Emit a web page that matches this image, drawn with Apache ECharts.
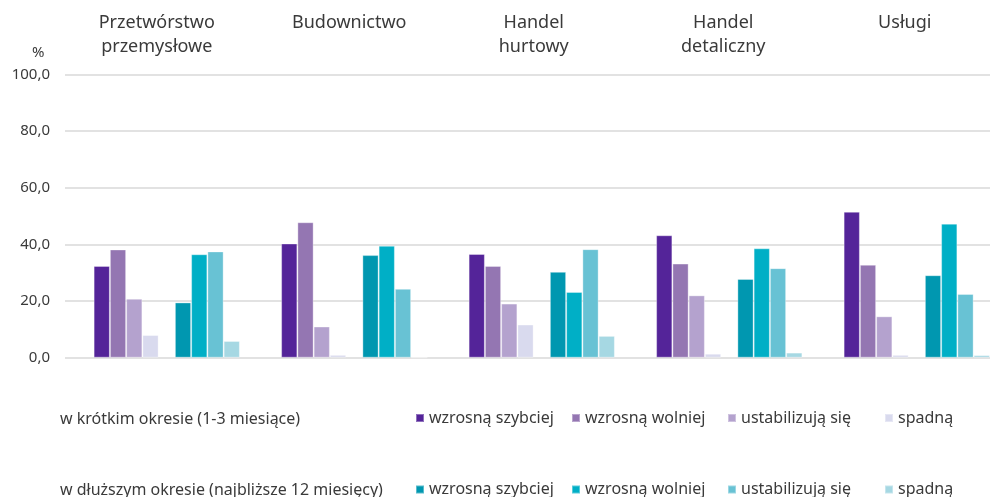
<!DOCTYPE html>
<html>
<head>
<meta charset="utf-8">
<script src="https://cdn.jsdelivr.net/npm/echarts@6/dist/echarts.min.js"></script>
<style>
html,body{margin:0;padding:0;background:#fff;}
#chart{width:990px;height:497px;}
</style>
</head>
<body>
<div id="chart"></div>
<script>
// ---- data ----
const sectors = ['Przetwórstwo\nprzemysłowe', 'Budownictwo', 'Handel\nhurtowy', 'Handel\ndetaliczny', 'Usługi'];
const seriesNames = ['wzrosną szybciej', 'wzrosną wolniej', 'ustabilizują się', 'spadną'];
const rowLabels = ['w krótkim okresie (1-3 miesiące)', 'w dłuższym okresie (najbliższe 12 miesięcy)'];
const yTicks = [0, 20, 40, 60, 80, 100];

const shortFaster = [32.4, 40.3, 36.6, 43.2, 51.5];
const shortSlower = [38.2, 47.8, 32.4, 33.2, 32.8];
const shortStable = [20.8, 11.0, 19.1, 22.0, 14.6];
const shortFall   = [8.0, 1.0, 11.7, 1.4, 1.0];

const longFaster = [19.5, 36.2, 30.3, 27.8, 29.1];
const longSlower = [36.5, 39.5, 23.2, 38.6, 47.3];
const longStable = [37.5, 24.3, 38.3, 31.6, 22.5];
const longFall   = [5.9, 0, 7.7, 1.8, 0.9];

// ---- styles ----
const shortColors = ['#542499', '#9476B2', '#B4A2CE', '#D9DAEE'];
const longColors  = ['#0097B0', '#00AFC6', '#68C2D4', '#A6D8E3'];
const titleShift = [20, 10, 16, 12, 24];
const FONT = '"Noto Sans", "Open Sans", sans-serif';
const TXT = '#3a3a3a';

const shortData = [shortFaster, shortSlower, shortStable, shortFall];
const longData = [longFaster, longSlower, longStable, longFall];

const series = [];
shortData.forEach((d, i) => {
  series.push({
    type: 'bar', name: 'K|' + seriesNames[i], data: d,
    xAxisIndex: 0, yAxisIndex: 0, barGap: 0, barCategoryGap: '22%',
    itemStyle: { color: shortColors[i], borderColor: 'rgba(255,255,255,0.35)', borderWidth: 1 }
  });
});
series.push({
  type: 'bar', name: 'spacer', data: sectors.map(() => '-'),
  xAxisIndex: 0, yAxisIndex: 0, barGap: 0, barCategoryGap: '22%', silent: true
});
longData.forEach((d, i) => {
  series.push({
    type: 'bar', name: 'D|' + seriesNames[i], data: d,
    xAxisIndex: 0, yAxisIndex: 0, barGap: 0, barCategoryGap: '22%',
    itemStyle: { color: longColors[i], borderColor: 'rgba(255,255,255,0.35)', borderWidth: 1 }
  });
});

const legendLefts = [415, 571, 727, 884];
const legendTops = [408, 479.5];
const legends = [];
['K', 'D'].forEach((p, r) => {
  seriesNames.forEach((n, i) => {
    legends.push({
      data: [p + '|' + n], left: legendLefts[i], top: legendTops[r], padding: 0,
      itemWidth: 8, itemHeight: 8, icon: 'rect', selectedMode: false,
      formatter: (name) => name.split('|')[1],
      textStyle: { fontFamily: FONT, fontSize: 16, color: TXT, lineHeight: 20 }
    });
  });
});

const chart = echarts.init(document.getElementById('chart'), null, { renderer: 'canvas' });
chart.setOption({
  animation: false,
  backgroundColor: '#ffffff',
  grid: [
    { left: 73, width: 937.5, top: 74.3, height: 283.4, outerBoundsMode: 'none', containLabel: false },
    { left: 65, right: 0, top: 74.3, height: 283.4, outerBoundsMode: 'none', containLabel: false }
  ],
  xAxis: [
    {
      type: 'category', gridIndex: 0, position: 'top',
      data: sectors.map((s, i) => ({ value: s, textStyle: {
        padding: [0, titleShift[i], 0, 0], verticalAlign: 'top', align: 'center',
        fontFamily: FONT, fontSize: 18, lineHeight: 24, color: TXT } })),
      axisLine: { show: false }, axisTick: { show: false },
      axisLabel: { interval: 0, margin: 63, verticalAlign: 'top', fontFamily: FONT, fontSize: 18, lineHeight: 24, color: TXT }
    },
    { type: 'value', gridIndex: 1, show: false, min: 0, max: 1 }
  ],
  yAxis: [
    { type: 'value', gridIndex: 0, min: 0, max: 100, show: false },
    {
      type: 'value', gridIndex: 1, min: yTicks[0], max: yTicks[yTicks.length - 1], interval: 20,
      axisLine: { show: false }, axisTick: { show: false },
      splitLine: { show: true, lineStyle: { color: '#d9d9d9', width: 1.5 } },
      axisLabel: { margin: 15, fontFamily: FONT, fontSize: 15, color: TXT,
        formatter: (v) => v.toFixed(1).replace('.', ',') }
    }
  ],
  legend: legends,
  graphic: [
    { type: 'text', left: 32, top: 45, style: { text: '%', font: '15px ' + FONT, fill: TXT } },
    { type: 'text', x: 60, y: 419, style: { text: rowLabels[0], font: '16px ' + FONT, fill: TXT, verticalAlign: 'middle' } },
    { type: 'text', x: 60, y: 490, style: { text: rowLabels[1], font: '16px ' + FONT, fill: TXT, verticalAlign: 'middle' } }
  ],
  series: series
});
</script>
</body>
</html>
